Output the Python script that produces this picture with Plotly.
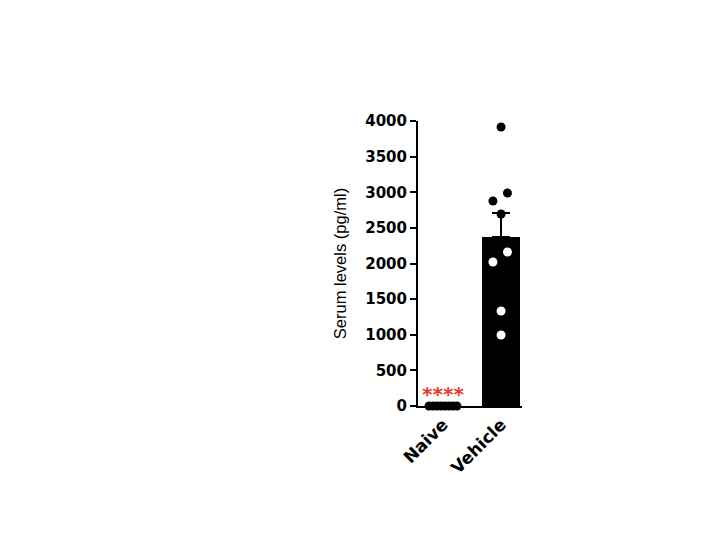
import numpy as np
import plotly.graph_objects as go

categories = ["Naive", "Vehicle"]
naive_values = [0, 0, 0, 0, 0, 0, 0, 0]
vehicle_values = [3916, 2877, 2989, 2695, 2021, 2161, 1333, 996]
vehicle_jitter = [0.0, -0.14, 0.11, 0.0, -0.14, 0.11, 0.0, 0.0]
yticks = [0, 500, 1000, 1500, 2000, 2500, 3000, 3500, 4000]

means = [float(np.mean(naive_values)), float(np.mean(vehicle_values))]
sems = [0.0, float(np.std(vehicle_values, ddof=1) / np.sqrt(len(vehicle_values)))]

fig = go.Figure()
fig.add_trace(go.Bar(
    x=[0, 1], y=means, width=0.66,
    marker=dict(color="black", line=dict(width=0)),
    error_y=dict(type="data", array=sems, arrayminus=[0, 0], visible=True,
                 color="black", thickness=2, width=9),
    showlegend=False,
))

naive_x = np.linspace(-0.24, 0.24, len(naive_values))
fig.add_trace(go.Scatter(
    x=naive_x, y=naive_values, mode="markers",
    marker=dict(color="black", size=9), cliponaxis=False, showlegend=False))

vx = [1 + j for j in vehicle_jitter]
vcol = ["black" if v > means[1] else "white" for v in vehicle_values]
fig.add_trace(go.Scatter(
    x=vx, y=vehicle_values, mode="markers",
    marker=dict(color=vcol, size=9), cliponaxis=False, showlegend=False))

fig.add_annotation(x=0, y=0, text="<b>****</b>", showarrow=False, yshift=12,
                   font=dict(color="#e8392a", size=20, family="DejaVu Sans"),
                   xanchor="center", yanchor="middle")

fig.update_layout(
    width=720, height=540,
    margin=dict(l=410, r=206, t=113, b=142),
    plot_bgcolor="white", paper_bgcolor="white",
    bargap=0,
    font=dict(family="Liberation Sans", color="black"),
    xaxis=dict(
        range=[-0.43, 1.36], tickmode="array", tickvals=[0, 1], ticktext=categories,
        tickangle=-45, showline=True, linecolor="black", linewidth=2,
        ticks="", showgrid=False, zeroline=False,
        tickfont=dict(size=17, family="DejaVu Sans", weight="bold"),
    ),
    yaxis=dict(
        range=[0, 4000], tickmode="array", tickvals=yticks,
        showline=True, linecolor="black", linewidth=2,
        ticks="outside", ticklen=6, tickwidth=2, tickcolor="black",
        showgrid=False, zeroline=False,
        tickfont=dict(size=15, family="DejaVu Sans", weight="bold"),
        title=dict(text="Serum levels (pg/ml)", standoff=14,
                   font=dict(size=16.5, family="Liberation Sans")),
    ),
)

fig.write_html("out.html")
